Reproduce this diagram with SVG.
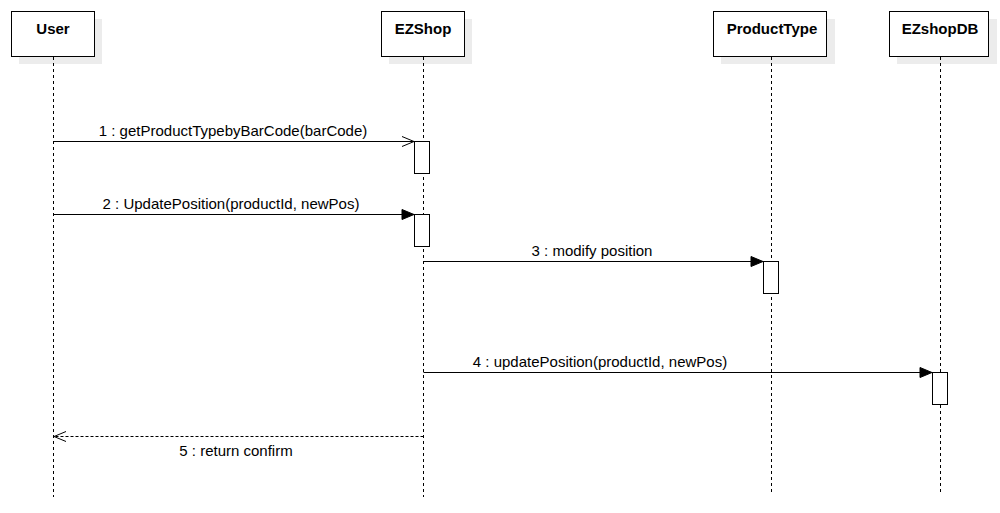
<svg xmlns="http://www.w3.org/2000/svg" width="1000" height="513" viewBox="0 0 1000 513">
<style>
.bg{fill:#ffffff}
.shadow{fill:#ececec;stroke:none}
.box{fill:#ffffff;stroke:#000000;stroke-width:1}
.title{font-family:"Liberation Sans",Arial,sans-serif;font-size:15px;font-weight:bold;fill:#000;text-anchor:middle}
.life{stroke:#000;stroke-width:1;stroke-dasharray:3,3;fill:none}
.act{fill:#ffffff;stroke:#000;stroke-width:1}
.msg{stroke:#000;stroke-width:1;fill:none}
.ret{stroke:#000;stroke-width:1;fill:none;stroke-dasharray:3,2}
.lbl{font-family:"Liberation Sans",Arial,sans-serif;font-size:15px;fill:#000;text-anchor:middle}
</style>
<defs>
<marker id="open" markerWidth="14" markerHeight="12" refX="13" refY="6" orient="auto" markerUnits="userSpaceOnUse">
<path d="M1,1 L13,6 L1,11" fill="none" stroke="#000" stroke-width="1"/>
</marker>
<marker id="filled" markerWidth="14" markerHeight="12" refX="13" refY="6" orient="auto" markerUnits="userSpaceOnUse">
<path d="M1,1 L13,6 L1,11 Z" fill="#000" stroke="#000" stroke-width="1"/>
</marker>
</defs>
<rect class="bg" x="0" y="0" width="1000" height="513"/>
<g id="User">
<rect class="shadow" x="19" y="19" width="83" height="45"/>
<rect class="box" x="11.5" y="11.5" width="83" height="45"/>
<text class="title" x="53" y="34">User</text>
<line class="life" x1="53.5" y1="57" x2="53.5" y2="497"/>
</g>
<g id="EZShop">
<rect class="shadow" x="389" y="19" width="83" height="45"/>
<rect class="box" x="381.5" y="11.5" width="83" height="45"/>
<text class="title" x="423" y="34">EZShop</text>
<line class="life" x1="423.5" y1="57" x2="423.5" y2="497"/>
<rect class="act" x="414.5" y="141.5" width="15" height="32"/>
<rect class="act" x="414.5" y="214.5" width="15" height="32"/>
</g>
<g id="ProductType">
<rect class="shadow" x="721" y="19" width="114" height="45"/>
<rect class="box" x="713.5" y="11.5" width="113" height="45"/>
<text class="title" x="772" y="34">ProductType</text>
<line class="life" x1="771.5" y1="57" x2="771.5" y2="492"/>
<rect class="act" x="763.5" y="261.5" width="15" height="32"/>
</g>
<g id="EZshopDB">
<rect class="shadow" x="897" y="19" width="100" height="45"/>
<rect class="box" x="889.5" y="11.5" width="99" height="45"/>
<text class="title" x="940" y="34">EZshopDB</text>
<line class="life" x1="940.5" y1="57" x2="940.5" y2="492"/>
<rect class="act" x="932.5" y="372.5" width="15" height="32"/>
</g>
<g id="connectors">
<line class="msg" x1="53.5" y1="141.5" x2="414" y2="141.5" marker-end="url(#open)"/>
<text class="lbl" x="233" y="136">1 : getProductTypebyBarCode(barCode)</text>
<line class="msg" x1="53.5" y1="214.5" x2="414" y2="214.5" marker-end="url(#filled)"/>
<text class="lbl" x="231" y="209">2 : UpdatePosition(productId, newPos)</text>
<line class="msg" x1="423.5" y1="261.5" x2="763" y2="261.5" marker-end="url(#filled)"/>
<text class="lbl" x="592" y="256">3 : modify position</text>
<line class="msg" x1="423.5" y1="372.5" x2="932" y2="372.5" marker-end="url(#filled)"/>
<text class="lbl" x="600" y="367">4 : updatePosition(productId, newPos)</text>
<line class="ret" x1="423.5" y1="436.5" x2="54" y2="436.5" marker-end="url(#open)"/>
<text class="lbl" x="236" y="456">5 : return confirm</text>
</g>
</svg>
